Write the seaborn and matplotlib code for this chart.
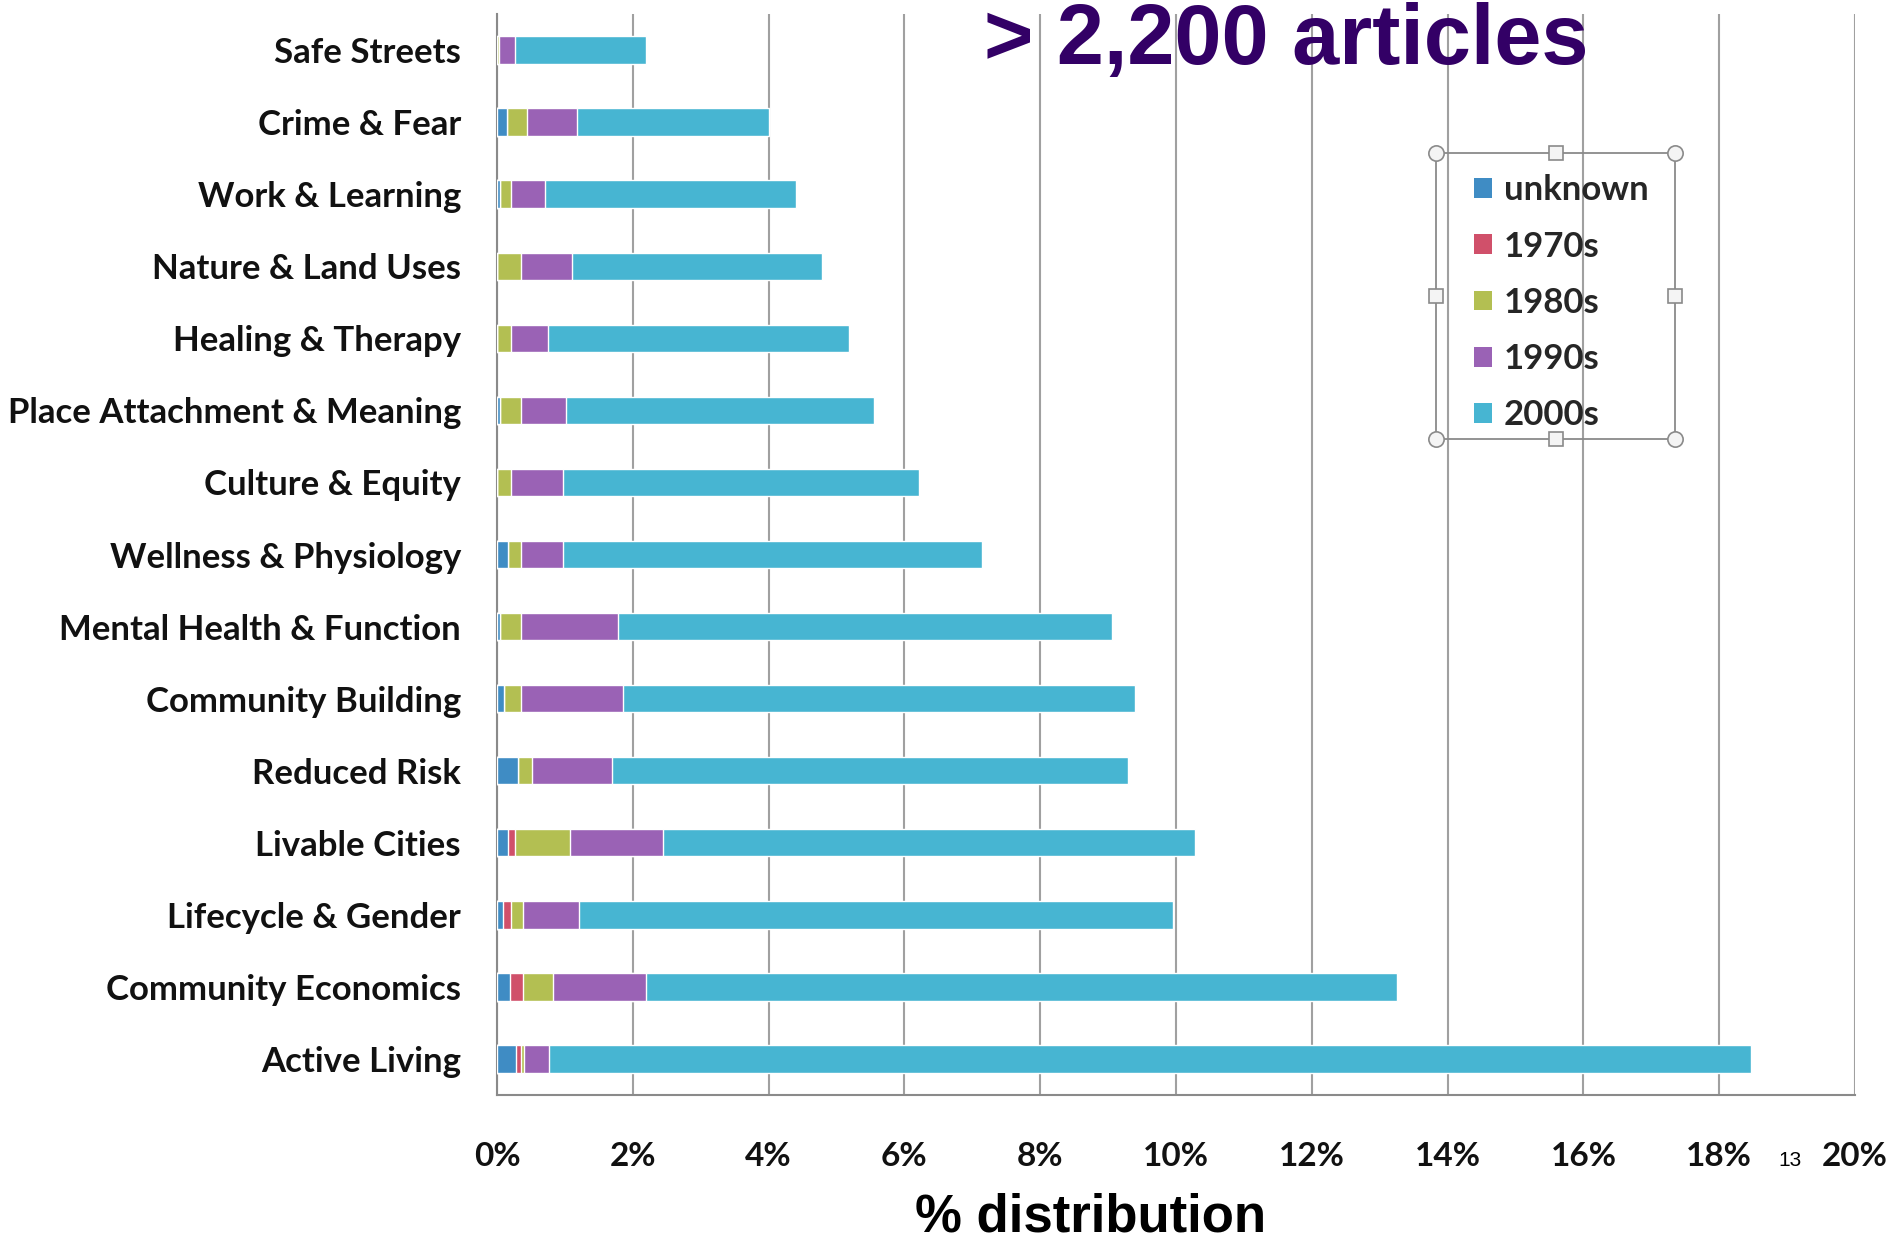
import matplotlib
matplotlib.use("Agg")
import matplotlib.pyplot as plt
import seaborn as sns
import pandas as pd
import numpy as np
from matplotlib.patches import Patch, Rectangle
from matplotlib.lines import Line2D

categories = ["Safe Streets", "Crime & Fear", "Work & Learning", "Nature & Land Uses",
              "Healing & Therapy", "Place Attachment & Meaning", "Culture & Equity",
              "Wellness & Physiology", "Mental Health & Function", "Community Building",
              "Reduced Risk", "Livable Cities", "Lifecycle & Gender",
              "Community Economics", "Active Living"]
series_names = ["unknown", "1970s", "1980s", "1990s", "2000s"]
unknown = [0.00, 0.14, 0.05, 0.00, 0.00, 0.05, 0.00, 0.16, 0.04, 0.11, 0.31, 0.16, 0.09, 0.19, 0.28]
s1970 = [0.00, 0.00, 0.00, 0.00, 0.00, 0.00, 0.00, 0.00, 0.00, 0.00, 0.00, 0.10, 0.12, 0.20, 0.07]
s1980 = [0.03, 0.30, 0.15, 0.36, 0.21, 0.31, 0.21, 0.20, 0.32, 0.25, 0.20, 0.81, 0.17, 0.44, 0.05]
s1990 = [0.24, 0.74, 0.50, 0.74, 0.54, 0.66, 0.76, 0.61, 1.42, 1.50, 1.18, 1.37, 0.83, 1.37, 0.37]
s2000 = [1.92, 2.82, 3.70, 3.69, 4.43, 4.53, 5.24, 6.18, 7.28, 7.54, 7.60, 7.84, 8.74, 11.06, 17.70]
xticks = [0, 2, 4, 6, 8, 10, 12, 14, 16, 18, 20]
xtick_labels = ["0%", "2%", "4%", "6%", "8%", "10%", "12%", "14%", "16%", "18%", "20%"]
colors = ["#3f8cc4", "#d0506a", "#b3bf52", "#9a62b5", "#47b5d2"]

df = pd.DataFrame({"category": categories, "unknown": unknown, "1970s": s1970,
                   "1980s": s1980, "1990s": s1990, "2000s": s2000})
cum = df[series_names].cumsum(axis=1)

sns.set_style("white")
plt.rcParams["font.family"] = ["Lato", "DejaVu Sans"]

fig = plt.figure(figsize=(18.95, 12.42), dpi=100)
ax = fig.add_axes([497 / 1895, 1 - 1095 / 1242, (1855 - 497) / 1895, (1095 - 14) / 1242])

for name, col in reversed(list(zip(series_names, colors))):
    d = pd.DataFrame({"category": categories, "value": cum[name].values})
    sns.barplot(data=d, x="value", y="category", orient="h", color=col,
                width=0.38, saturation=1, ax=ax, zorder=3)

ax.set_xlim(0, 20)
ax.set_ylim(14.5, -0.5)
ax.set_xticks(xticks)
ax.set_xticklabels(xtick_labels)
ax.xaxis.grid(True, color="#a0a0a0", linewidth=1.5, zorder=0)
ax.yaxis.grid(False)
ax.set_axisbelow(True)
ax.set_xlabel("")
ax.set_ylabel("")

for s in ["top", "right"]:
    ax.spines[s].set_visible(False)
for s in ["left", "bottom"]:
    ax.spines[s].set_color("#8a8a8a")
    ax.spines[s].set_linewidth(1.5)

ax.tick_params(axis="x", length=13, width=1.3, color="#8a8a8a", pad=21,
               labelsize=24)
ax.tick_params(axis="y", length=0, pad=26, labelsize=25)
for lab in ax.get_xticklabels() + ax.get_yticklabels():
    lab.set_fontweight("bold")
    lab.set_color("#111111")

# minor ticks between categories on the y axis
ax.set_yticks(np.arange(-0.5, 15, 1), minor=True)
ax.tick_params(axis="y", which="minor", length=8, width=1.2, color="#8a8a8a")

# legend
handles = [Patch(facecolor=c, edgecolor="none") for c in colors]
leg = fig.legend(handles, series_names, loc="upper left",
                 bbox_to_anchor=(1443 / 1895, 1 - 143 / 1242), frameon=False,
                 prop={"family": ["Lato", "DejaVu Sans"], "weight": "bold", "size": 25},
                 handlelength=0.5, handleheight=0.5, handletextpad=0.35,
                 labelspacing=0.70)

x0, x1 = 1436 / 1895, 1675 / 1895
y0, y1 = 1 - 439 / 1242, 1 - 153 / 1242
fig.add_artist(Rectangle((x0, y0), x1 - x0, y1 - y0, transform=fig.transFigure,
                         fill=False, edgecolor="#8a8a8a", linewidth=1.3))
xm, ym = (x0 + x1) / 2, (y0 + y1) / 2
for (px, py) in [(x0, y0), (x0, y1), (x1, y0), (x1, y1)]:
    fig.add_artist(Line2D([px], [py], transform=fig.transFigure, marker="o",
                          markersize=11, markerfacecolor="#f4f4f4",
                          markeredgecolor="#8a8a8a", markeredgewidth=1.2))
for (px, py) in [(xm, y0), (xm, y1), (x0, ym), (x1, ym)]:
    fig.add_artist(Line2D([px], [py], transform=fig.transFigure, marker="s",
                          markersize=10, markerfacecolor="#f4f4f4",
                          markeredgecolor="#8a8a8a", markeredgewidth=1.2))

fig.text(1286 / 1895, 1 - 42 / 1242, "> 2,200 articles", ha="center", va="center",
         fontsize=61, fontweight="bold", color="#330066",
         family=["Liberation Sans", "DejaVu Sans"])
fig.text(1091 / 1895, 1 - 1218 / 1242, "% distribution", ha="center", va="center",
         fontsize=38, fontweight="bold", color="#000000",
         family=["Liberation Sans", "DejaVu Sans"])
fig.text(1790 / 1895, 1 - 1160 / 1242, "13", ha="center", va="center",
         fontsize=15, color="#000000", family=["Liberation Sans", "DejaVu Sans"])

fig.savefig("out.png", dpi=100, facecolor="white")
